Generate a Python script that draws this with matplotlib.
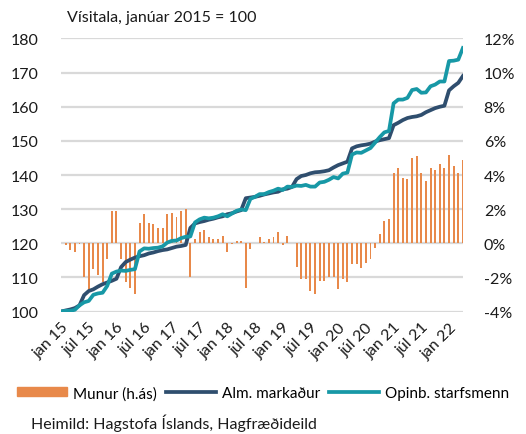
import numpy as np
import matplotlib
matplotlib.use("Agg")
from matplotlib import pyplot as plt
from matplotlib.patches import Patch
from matplotlib.lines import Line2D

plt.rcParams['font.family'] = ['Lato', 'DejaVu Sans']

# manaðarleg gögn, jan 2015 - apr 2022
alm = [100.0, 100.3, 100.6, 101.0, 101.8, 104.8, 106.0, 106.5, 107.3, 108.0, 108.5, 109.0,
       109.6, 113.0, 114.5, 115.2, 115.8, 116.2, 116.5, 117.0, 117.3, 117.7, 118.0, 118.2,
       118.6, 119.0, 119.2, 119.5, 124.5, 125.8, 126.2, 126.5, 126.9, 127.2, 127.6, 127.9,
       128.5, 128.8, 129.3, 129.7, 133.2, 133.4, 133.6, 133.9, 134.3, 134.6, 134.9, 135.1,
       135.8, 136.0, 136.5, 138.8, 139.7, 140.0, 140.5, 140.8, 140.9, 141.1, 141.4, 142.2,
       142.9, 143.4, 143.9, 147.8, 148.4, 148.7, 148.9, 149.2, 149.8, 150.2, 150.5, 150.8,
       154.6, 155.3, 156.1, 156.7, 157.0, 157.2, 157.6, 158.4, 159.0, 159.6, 160.0, 160.3,
       164.8, 166.0, 167.0, 169.0]

opinb = [100.0, 100.2, 100.2, 100.5, 101.8, 102.7, 103.1, 104.9, 105.3, 105.5, 107.5, 111.1,
         111.7, 112.0, 111.9, 112.2, 112.4, 117.6, 118.5, 118.4, 118.6, 118.7, 119.1, 120.2,
         120.7, 120.8, 121.5, 121.9, 122.0, 126.1, 127.0, 127.5, 127.3, 127.5, 127.9, 128.5,
         127.9, 128.7, 129.5, 129.9, 129.7, 133.0, 133.6, 134.4, 134.4, 135.0, 135.4, 136.0,
         135.6, 136.6, 136.5, 136.9, 136.8, 137.1, 136.6, 136.6, 137.8, 138.0, 138.6, 139.4,
         139.0, 140.4, 140.7, 146.0, 146.6, 146.5, 147.2, 147.9, 149.5, 151.1, 152.5, 152.9,
         161.0, 162.1, 162.1, 162.6, 164.9, 165.2, 164.1, 164.2, 166.0, 166.5, 167.4, 167.4,
         173.4, 173.5, 173.8, 177.2]

munur = [0.0, -0.12, -0.4, -0.5, -0.05, -2.0, -2.75, -1.5, -1.85, -2.3, -0.9, 1.9,
         1.9, -0.9, -2.3, -2.6, -2.95, 1.2, 1.7, 1.2, 1.1, 0.9, 0.9, 1.7,
         1.8, 1.55, 1.9, 2.0, -2.0, 0.23, 0.64, 0.78, 0.35, 0.25, 0.25, 0.45,
         -0.5, -0.05, 0.14, 0.14, -2.6, -0.33, 0.0, 0.35, 0.06, 0.25, 0.35, 0.68,
         -0.12, 0.45, 0.0, -1.4, -2.1, -2.1, -2.8, -3.0, -2.2, -2.2, -1.95, -1.95,
         -2.7, -2.1, -2.25, -1.2, -1.2, -1.45, -1.15, -0.95, -0.25, 0.57, 1.3, 1.4,
         4.1, 4.4, 3.85, 3.75, 5.0, 5.1, 4.1, 3.65, 4.4, 4.3, 4.65, 4.4,
         5.2, 4.5, 4.1, 4.85]

tick_labels = ["jan 15", "júl 15", "jan 16", "júl 16", "jan 17", "júl 17", "jan 18", "júl 18",
               "jan 19", "júl 19", "jan 20", "júl 20", "jan 21", "júl 21", "jan 22"]

c_bar = "#E8894A"
c_alm = "#2F4E6E"
c_opi = "#1798A6"

x = np.arange(len(alm))

fig = plt.figure(figsize=(5.26, 4.35), dpi=100)
ax = fig.add_axes([0.116, 0.2816, 0.764, 0.6276])
ax2 = ax.twinx()

# súlur á hægri ás, bak við línurnar
ax2.bar(x, munur, width=0.42, color=c_bar, zorder=2)
ax2.set_ylim(-4, 12)
ax2.set_yticks(range(-4, 13, 2))
ax2.set_yticklabels([f"{v}%" for v in range(-4, 13, 2)])
ax2.grid(axis="y", color="#D9D9D9", lw=1.6, zorder=0)
ax2.set_axisbelow(True)

ax.plot(x, alm, color=c_alm, lw=2.7, solid_joinstyle="round", zorder=3)
ax.plot(x, opinb, color=c_opi, lw=2.7, solid_joinstyle="round", zorder=4)
ax.set_ylim(100, 180)
ax.set_yticks(range(100, 181, 10))
ax.set_xlim(0, len(alm) - 1)
ax.set_xticks(range(0, len(alm), 6))
ax.set_xticklabels(tick_labels, rotation=45, ha="right", va="top", rotation_mode="anchor")
ax.set_zorder(ax2.get_zorder() + 1)
ax.patch.set_visible(False)

for a in (ax, ax2):
    for s in a.spines.values():
        s.set_visible(False)
    a.tick_params(length=0, labelsize=11.5, colors="#1a1a1a")
ax.tick_params(axis="x", pad=6)
ax.tick_params(axis="y", pad=16)
ax2.tick_params(axis="y", pad=15)

fig.text(0.128, 0.958, "Vísitala, janúar 2015 = 100", fontsize=11.5, color="#1a1a1a", va="center")

handles = [Patch(color=c_bar), Line2D([], [], color=c_alm, lw=2.7), Line2D([], [], color=c_opi, lw=2.7)]
fig.legend(handles, ["Munur (h.ás)", "Alm. markaður", "Opinb. starfsmenn"], ncol=3,
           loc="center", bbox_to_anchor=(0.5, 0.094), frameon=False, fontsize=11,
           handlelength=3.3, handleheight=0.55, handletextpad=0.35, columnspacing=0.6)

fig.text(0.058, 0.026, "Heimild: Hagstofa Íslands, Hagfræðideild", fontsize=11.5, color="#1a1a1a", va="center")

fig.savefig("out.png", dpi=100)
